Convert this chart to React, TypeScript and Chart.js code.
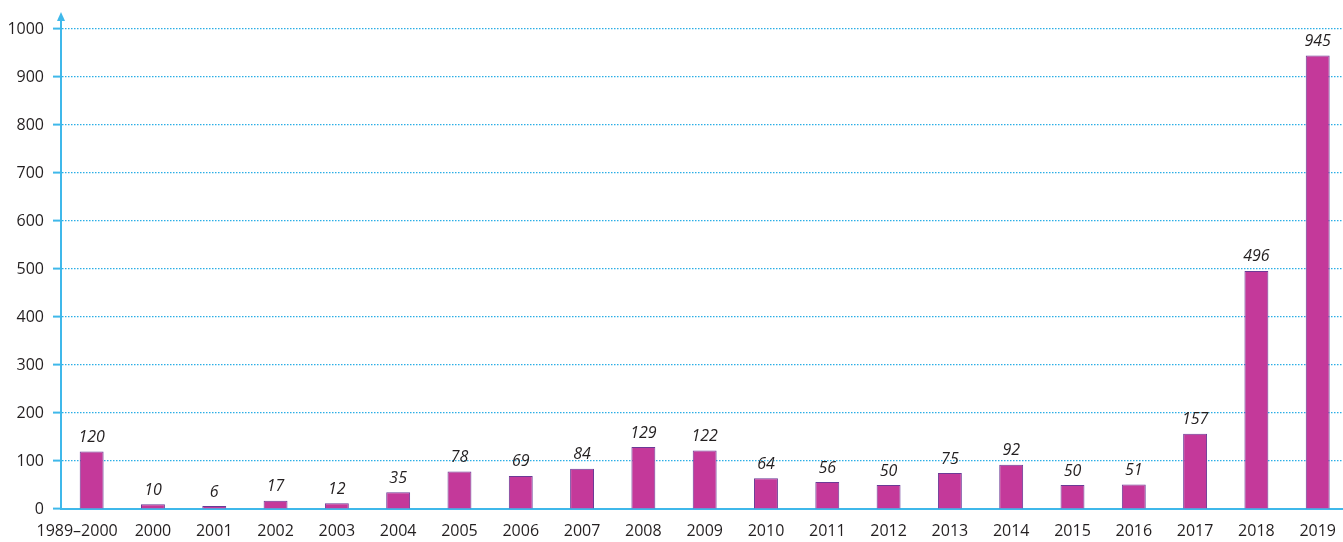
import React, { useEffect, useRef } from "react";
import { Chart, registerables } from "chart.js";

Chart.register(...registerables);

const categories = ["1989–2000", "2000", "2001", "2002", "2003", "2004", "2005", "2006", "2007", "2008", "2009", "2010", "2011", "2012", "2013", "2014", "2015", "2016", "2017", "2018", "2019"];
const values = [120, 10, 6, 17, 12, 35, 78, 69, 84, 129, 122, 64, 56, 50, 75, 92, 50, 51, 157, 496, 945];
const yTicks = [0, 100, 200, 300, 400, 500, 600, 700, 800, 900, 1000];

const AXIS_BLUE = "#3fb8ea";
const GRID_BLUE = "#2aaee6";
const FONT = "'Open Sans', 'Noto Sans', sans-serif";

const overlayPlugin = {
  id: "overlay",
  afterDatasetsDraw(chart: any) {
    const ctx = chart.ctx;
    const meta = chart.getDatasetMeta(0);
    ctx.save();
    ctx.font = `italic 16px ${FONT}`;
    ctx.fillStyle = "#231f20";
    ctx.textAlign = "center";
    ctx.textBaseline = "bottom";
    meta.data.forEach((el: any, i: number) => {
      ctx.fillText(String(values[i]), el.x, el.y - 6);
    });
    ctx.restore();
  },
  afterDraw(chart: any) {
    const ctx = chart.ctx;
    const area = chart.chartArea;
    const x = area.left;
    ctx.save();
    ctx.strokeStyle = AXIS_BLUE;
    ctx.lineWidth = 2;
    ctx.beginPath();
    ctx.moveTo(x, area.top);
    ctx.lineTo(x, 20);
    ctx.stroke();
    ctx.fillStyle = AXIS_BLUE;
    ctx.beginPath();
    ctx.moveTo(x, 12);
    ctx.lineTo(x - 4, 21);
    ctx.lineTo(x + 4, 21);
    ctx.closePath();
    ctx.fill();
    ctx.restore();
  },
};

export default function App() {
  const ref = useRef<HTMLCanvasElement>(null);
  useEffect(() => {
    document.body.style.margin = "0";
    document.body.style.overflow = "hidden";
    const chart = new Chart(ref.current!, {
      type: "bar",
      data: {
        labels: categories,
        datasets: [
          {
            data: values,
            backgroundColor: "#c4399a",
            borderColor: "#6b3a96",
            borderWidth: 1,
            barPercentage: 0.39,
            categoryPercentage: 1,
          },
        ],
      },
      options: {
        animation: false,
        responsive: false,
        maintainAspectRatio: false,
        layout: { padding: { top: 29, left: 0, right: 0, bottom: 0 } },
        plugins: { legend: { display: false }, tooltip: { enabled: false } },
        scales: {
          x: {
            grid: { display: false, drawTicks: false },
            border: { display: true, color: AXIS_BLUE, width: 2 },
            ticks: {
              color: "#231f20",
              font: { family: FONT, size: 16 },
              padding: 13,
              maxRotation: 0,
              autoSkip: false,
              callback: (_v: any, i: number) =>
                i === 0 ? categories[i] + "\u00a0\u00a0\u00a0\u00a0\u00a0\u00a0\u00a0" : categories[i],
            },
            afterFit(scale: any) {
              scale.height = 33;
            },
          },
          y: {
            min: 0,
            max: 1000,
            afterBuildTicks(scale: any) {
              scale.ticks = yTicks.map((v) => ({ value: v }));
            },
            grid: {
              color: GRID_BLUE,
              lineWidth: 1.2,
              tickColor: AXIS_BLUE,
              tickWidth: 2,
              tickLength: 8,
              tickBorderDash: [],
              drawTicks: true,
            },
            border: { display: true, color: AXIS_BLUE, width: 2, dash: [1.5, 1.5] },
            ticks: {
              color: "#231f20",
              font: { family: FONT, size: 16 },
              padding: 9,
              callback: (v: any) => String(v),
            },
            afterFit(scale: any) {
              scale.width = 61;
            },
          },
        },
      },
      plugins: [overlayPlugin],
    });
    return () => chart.destroy();
  }, []);
  return (
    <div style={{ position: "fixed", left: 0, top: 0, width: 1349, height: 542 }}>
      <canvas ref={ref} width={1349} height={542} />
    </div>
  );
}
